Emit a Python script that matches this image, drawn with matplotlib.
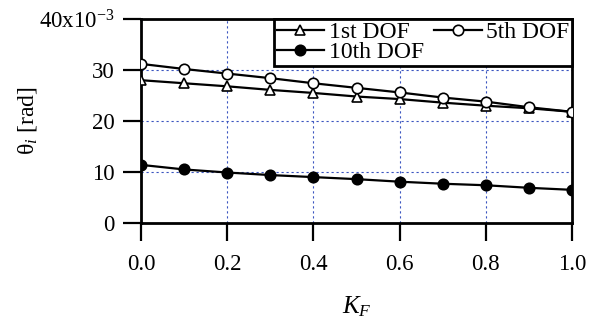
import matplotlib
matplotlib.use("Agg")
import matplotlib.pyplot as plt

kf = [0.0, 0.1, 0.2, 0.3, 0.4, 0.5, 0.6, 0.7, 0.8, 0.9, 1.0]
dof1 = [28.0, 27.4, 26.8, 26.1, 25.5, 24.8, 24.3, 23.6, 23.0, 22.5, 21.8]
dof5 = [31.2, 30.2, 29.3, 28.4, 27.4, 26.5, 25.6, 24.6, 23.8, 22.7, 21.8]
dof10 = [11.4, 10.5, 9.9, 9.4, 9.0, 8.6, 8.1, 7.7, 7.4, 6.9, 6.5]
xticks = [0.0, 0.2, 0.4, 0.6, 0.8, 1.0]
xticklabels = ["0.0", "0.2", "0.4", "0.6", "0.8", "1.0"]
yticks = [0, 10, 20, 30, 40]
yticklabels = ["0", "10", "20", "30", r"40x10$^{\mathregular{-3}}$"]

plt.rcParams['font.family'] = ['Liberation Serif', 'DejaVu Serif']
plt.rcParams['mathtext.fontset'] = 'custom'
plt.rcParams['mathtext.rm'] = 'Liberation Serif'
plt.rcParams['mathtext.it'] = 'Liberation Serif:italic'
plt.rcParams['mathtext.bf'] = 'Liberation Serif:bold'

fig = plt.figure(figsize=(6.06, 3.2), dpi=100)
ax = fig.add_axes([141/606, 1-223/320, (572-141)/606, (223-19)/320])

lw = 1.6
ms = 7.5
l1, = ax.plot(kf, dof1, '-', color='black', lw=lw, marker='^', ms=ms,
              mfc='white', mec='black', mew=1.2, label='1st DOF', zorder=3)
l5, = ax.plot(kf, dof5, '-', color='black', lw=lw, marker='o', ms=ms,
              mfc='white', mec='black', mew=1.2, label='5th DOF', zorder=3)
l10, = ax.plot(kf, dof10, '-', color='black', lw=lw, marker='o', ms=ms,
               mfc='black', mec='black', mew=1.2, label='10th DOF', zorder=3)

ax.set_xlim(0, 1.0)
ax.set_ylim(0, 40)
ax.set_xticks(xticks)
ax.set_xticklabels(xticklabels)
ax.set_yticks(yticks)
ax.set_yticklabels(yticklabels)
ax.tick_params(direction='out', length=13, width=1.6, labelsize=16.5, pad=6)
ax.tick_params(axis='x', pad=9)
for s in ax.spines.values():
    s.set_linewidth(2.0)
    s.set_color('black')

ax.grid(True, color='#3a55c0', linestyle=(0, (2, 2.5)), linewidth=0.8)
ax.set_axisbelow(True)

ax.set_xlabel(r'$K_F$', fontsize=18, labelpad=14)
ax.set_ylabel(r'$\mathrm{\theta}_{i}$ [rad]', fontsize=17, labelpad=0)

leg = ax.legend([l1, l10, l5], ['1st DOF', '10th DOF', '5th DOF'], ncol=2,
                loc='upper right', bbox_to_anchor=(1, 1), borderaxespad=0,
                fontsize=17, frameon=True, fancybox=False, handlelength=2.0,
                handletextpad=0.2, columnspacing=0.45, labelspacing=-0.05,
                borderpad=0.1)
leg.get_frame().set_edgecolor('black')
leg.get_frame().set_linewidth(2.0)
leg.get_frame().set_alpha(1)

fig.savefig('out.png', dpi=100)
